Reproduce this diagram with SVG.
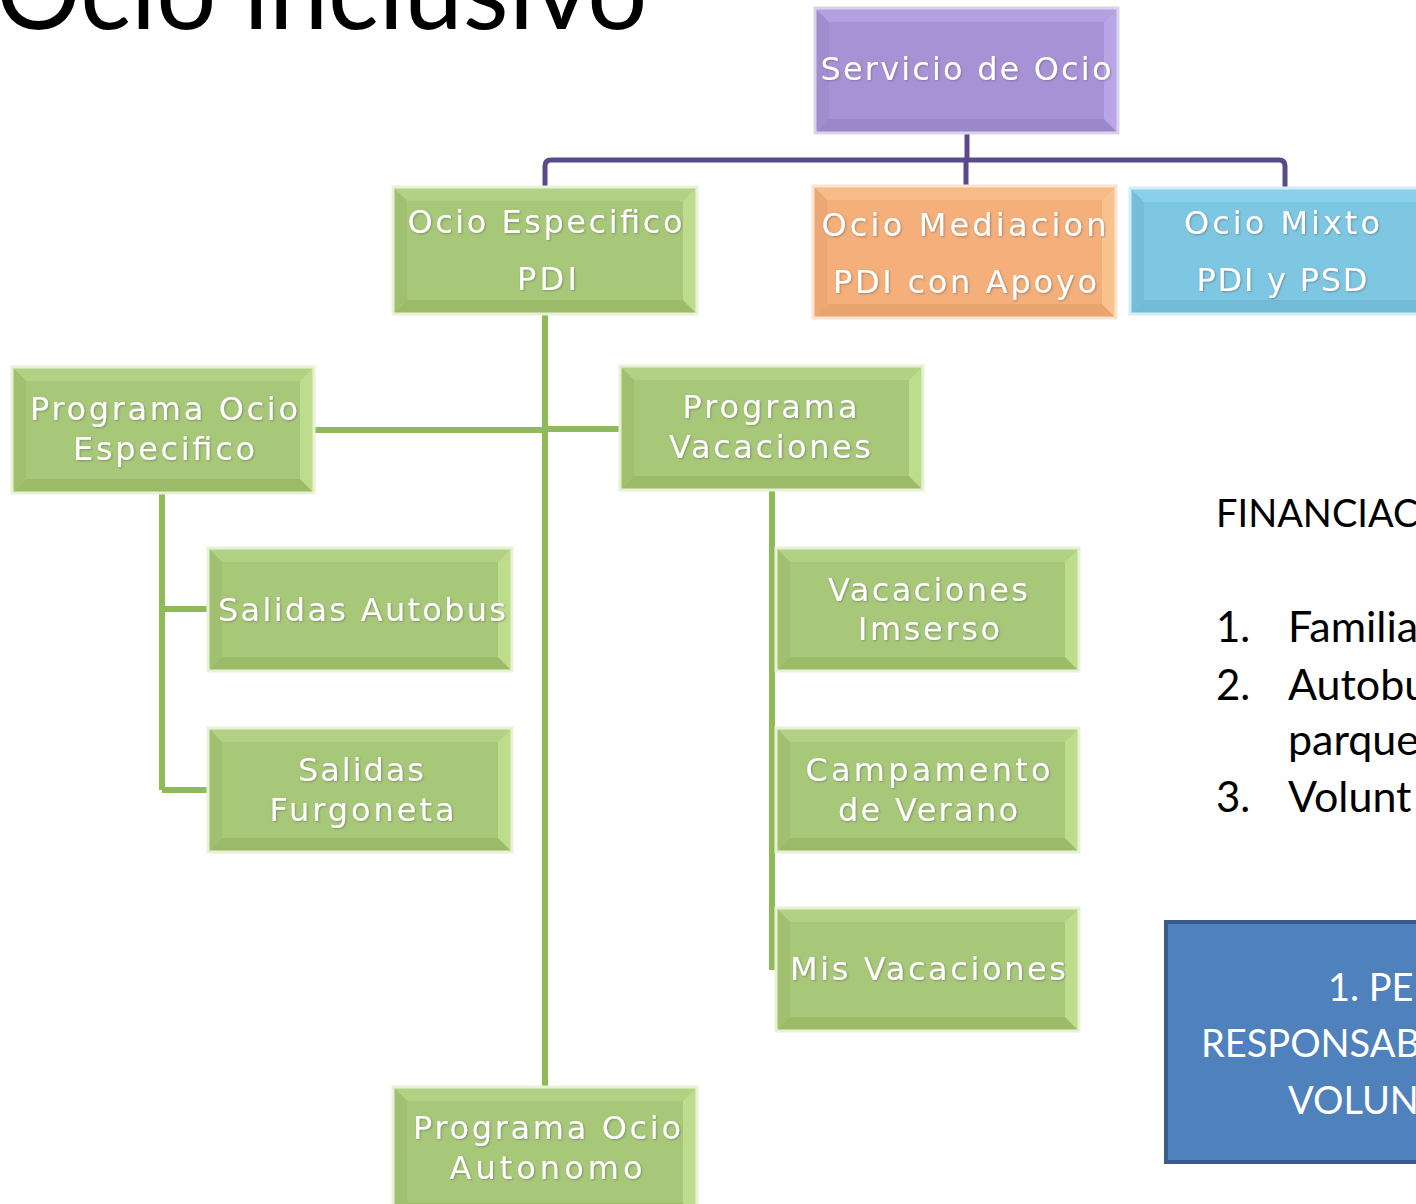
<svg xmlns="http://www.w3.org/2000/svg" width="1416" height="1204" viewBox="0 0 1416 1204">
<defs>
<style>
.lbl{font-family:"DejaVu Sans",Verdana,sans-serif;font-size:32px;fill:#ffffff;text-anchor:middle;filter:url(#ts)}
.blk{font-family:Lato,"Open Sans",sans-serif;fill:#000000}
.wht{font-family:Lato,"Open Sans",sans-serif;fill:#ffffff;font-size:38px}
.edge{fill:none;stroke-width:3}
.purple .f{fill:#a892d6}.purple .t{fill:#b3a0de}.purple .b{fill:#9b88c8}.purple .l{fill:#a08dcd}.purple .r{fill:#b8a6e6}.purple .edge{stroke:#d9d2ec}
.green .f{fill:#a8c879}.green .t{fill:#b2d185}.green .b{fill:#9bbb69}.green .l{fill:#a0c06f}.green .r{fill:#bedd8c}.green .edge{stroke:#e6f1d6}
.orange .f{fill:#f4af7a}.orange .t{fill:#f7bb88}.orange .b{fill:#e9a46f}.orange .l{fill:#eca874}.orange .r{fill:#f9c38f}.orange .edge{stroke:#fae3cf}
.blue .f{fill:#7ec7e3}.blue .t{fill:#8ad0ea}.blue .b{fill:#72bad6}.blue .l{fill:#76bdd9}.blue .r{fill:#92d8f0}.blue .edge{stroke:#d3edf7}
.cp{fill:none;stroke:#5b4a8b;stroke-width:5;stroke-linejoin:round}
.cg{fill:none;stroke:#8fba57;stroke-width:6}
</style>
<filter id="ts" x="-10%" y="-30%" width="120%" height="160%">
<feDropShadow dx="1" dy="1" stdDeviation="0.8" flood-color="#5a5a5a" flood-opacity="0.5"/>
</filter>
</defs>
<rect x="0" y="0" width="1416" height="1204" fill="#ffffff"/>

<text class="blk" x="-4" y="29" font-size="106">Ocio inclusivo</text>

<g id="connectors">
<path class="cp" d="M967 133 V160 M545 187 V166 Q545 160 551 160 H1279 Q1285 160 1285 166 V188 M966 160 V186"/>
<path class="cg" d="M545 314 V1087 M314 430 H545 M545 429 H620 M162 493 V790 M162 609 H208 M162 790 H208 M772 490 V970"/>
</g>

<g id="n-servicio" class="purple">
<rect class="f" x="815" y="8" width="303" height="125"/>
<polygon class="t" points="815,8 1118,8 1104,22 829,22"/>
<polygon class="b" points="815,133 1118,133 1104,119 829,119"/>
<polygon class="l" points="815,8 829,22 829,119 815,133"/>
<polygon class="r" points="1118,8 1104,22 1104,119 1118,133"/>
<rect class="edge" x="815" y="8" width="303" height="125"/>
<text class="lbl" x="966" y="80" textLength="291" lengthAdjust="spacing">Servicio de Ocio</text>
</g>

<g id="n-especifico" class="green">
<rect class="f" x="393" y="187" width="304" height="127"/>
<polygon class="t" points="393,187 697,187 683,201 407,201"/>
<polygon class="b" points="393,314 697,314 683,300 407,300"/>
<polygon class="l" points="393,187 407,201 407,300 393,314"/>
<polygon class="r" points="697,187 683,201 683,300 697,314"/>
<rect class="edge" x="393" y="187" width="304" height="127"/>
<text class="lbl" x="545" y="233" textLength="275" lengthAdjust="spacing">Ocio Especifico</text>
<text class="lbl" x="547" y="290" textLength="60" lengthAdjust="spacing">PDI</text>
</g>

<g id="n-mediacion" class="orange">
<rect class="f" x="813" y="186" width="303" height="132"/>
<polygon class="t" points="813,186 1116,186 1102,200 827,200"/>
<polygon class="b" points="813,318 1116,318 1102,304 827,304"/>
<polygon class="l" points="813,186 827,200 827,304 813,318"/>
<polygon class="r" points="1116,186 1102,200 1102,304 1116,318"/>
<rect class="edge" x="813" y="186" width="303" height="132"/>
<text class="lbl" x="964" y="236" textLength="285" lengthAdjust="spacing">Ocio Mediacion</text>
<text class="lbl" x="965" y="293" textLength="264" lengthAdjust="spacing">PDI con Apoyo</text>
</g>

<g id="n-mixto" class="blue">
<rect class="f" x="1130" y="188" width="300" height="126"/>
<polygon class="t" points="1130,188 1430,188 1416,202 1144,202"/>
<polygon class="b" points="1130,314 1430,314 1416,300 1144,300"/>
<polygon class="l" points="1130,188 1144,202 1144,300 1130,314"/>
<rect class="edge" x="1130" y="188" width="300" height="126"/>
<text class="lbl" x="1282" y="234" textLength="196" lengthAdjust="spacing">Ocio Mixto</text>
<text class="lbl" x="1282" y="291" textLength="171" lengthAdjust="spacing">PDI y PSD</text>
</g>

<g id="n-prog-especifico" class="green">
<rect class="f" x="12" y="367" width="302" height="126"/>
<polygon class="t" points="12,367 314,367 300,381 26,381"/>
<polygon class="b" points="12,493 314,493 300,479 26,479"/>
<polygon class="l" points="12,367 26,381 26,479 12,493"/>
<polygon class="r" points="314,367 300,381 300,479 314,493"/>
<rect class="edge" x="12" y="367" width="302" height="126"/>
<text class="lbl" x="164" y="420" textLength="268" lengthAdjust="spacing">Programa Ocio</text>
<text class="lbl" x="164" y="460" textLength="182" lengthAdjust="spacing">Especifico</text>
</g>

<g id="n-prog-vacaciones" class="green">
<rect class="f" x="620" y="366" width="303" height="124"/>
<polygon class="t" points="620,366 923,366 909,380 634,380"/>
<polygon class="b" points="620,490 923,490 909,476 634,476"/>
<polygon class="l" points="620,366 634,380 634,476 620,490"/>
<polygon class="r" points="923,366 909,380 909,476 923,490"/>
<rect class="edge" x="620" y="366" width="303" height="124"/>
<text class="lbl" x="770" y="418" textLength="175" lengthAdjust="spacing">Programa</text>
<text class="lbl" x="770" y="458" textLength="202" lengthAdjust="spacing">Vacaciones</text>
</g>

<g id="n-salidas-autobus" class="green">
<rect class="f" x="208" y="548" width="304" height="123"/>
<polygon class="t" points="208,548 512,548 498,562 222,562"/>
<polygon class="b" points="208,671 512,671 498,657 222,657"/>
<polygon class="l" points="208,548 222,562 222,657 208,671"/>
<polygon class="r" points="512,548 498,562 498,657 512,671"/>
<rect class="edge" x="208" y="548" width="304" height="123"/>
<text class="lbl" x="362" y="621" textLength="288" lengthAdjust="spacing">Salidas Autobus</text>
</g>

<g id="n-salidas-furgoneta" class="green">
<rect class="f" x="208" y="728" width="304" height="124"/>
<polygon class="t" points="208,728 512,728 498,742 222,742"/>
<polygon class="b" points="208,852 512,852 498,838 222,838"/>
<polygon class="l" points="208,728 222,742 222,838 208,852"/>
<polygon class="r" points="512,728 498,742 498,838 512,852"/>
<rect class="edge" x="208" y="728" width="304" height="124"/>
<text class="lbl" x="361" y="781" textLength="126" lengthAdjust="spacing">Salidas</text>
<text class="lbl" x="362" y="821" textLength="185" lengthAdjust="spacing">Furgoneta</text>
</g>

<g id="n-vacaciones-imserso" class="green">
<rect class="f" x="776" y="548" width="303" height="123"/>
<polygon class="t" points="776,548 1079,548 1065,562 790,562"/>
<polygon class="b" points="776,671 1079,671 1065,657 790,657"/>
<polygon class="l" points="776,548 790,562 790,657 776,671"/>
<polygon class="r" points="1079,548 1065,562 1065,657 1079,671"/>
<rect class="edge" x="776" y="548" width="303" height="123"/>
<text class="lbl" x="928" y="601" textLength="200" lengthAdjust="spacing">Vacaciones</text>
<text class="lbl" x="929" y="640" textLength="142" lengthAdjust="spacing">Imserso</text>
</g>

<g id="n-campamento" class="green">
<rect class="f" x="776" y="728" width="303" height="124"/>
<polygon class="t" points="776,728 1079,728 1065,742 790,742"/>
<polygon class="b" points="776,852 1079,852 1065,838 790,838"/>
<polygon class="l" points="776,728 790,742 790,838 776,852"/>
<polygon class="r" points="1079,728 1065,742 1065,838 1079,852"/>
<rect class="edge" x="776" y="728" width="303" height="124"/>
<text class="lbl" x="928" y="781" textLength="245" lengthAdjust="spacing">Campamento</text>
<text class="lbl" x="928" y="821" textLength="180" lengthAdjust="spacing">de Verano</text>
</g>

<g id="n-mis-vacaciones" class="green">
<rect class="f" x="776" y="908" width="303" height="123"/>
<polygon class="t" points="776,908 1079,908 1065,922 790,922"/>
<polygon class="b" points="776,1031 1079,1031 1065,1017 790,1017"/>
<polygon class="l" points="776,908 790,922 790,1017 776,1031"/>
<polygon class="r" points="1079,908 1065,922 1065,1017 1079,1031"/>
<rect class="edge" x="776" y="908" width="303" height="123"/>
<text class="lbl" x="928" y="980" textLength="276" lengthAdjust="spacing">Mis Vacaciones</text>
</g>

<g id="n-prog-autonomo" class="green">
<rect class="f" x="393" y="1087" width="304" height="130"/>
<polygon class="t" points="393,1087 697,1087 683,1101 407,1101"/>
<polygon class="b" points="393,1217 697,1217 683,1203 407,1203"/>
<polygon class="l" points="393,1087 407,1101 407,1203 393,1217"/>
<polygon class="r" points="697,1087 683,1101 683,1203 697,1217"/>
<rect class="edge" x="393" y="1087" width="304" height="130"/>
<text class="lbl" x="547" y="1139" textLength="268" lengthAdjust="spacing">Programa Ocio</text>
<text class="lbl" x="546" y="1179" textLength="193" lengthAdjust="spacing">Autonomo</text>
</g>

<g id="financiacion">
<text class="blk" x="1216" y="527" font-size="38">FINANCIAC</text>
<text class="blk" x="1216" y="642" font-size="42">1.</text>
<text class="blk" x="1288" y="642" font-size="43">Familia</text>
<text class="blk" x="1216" y="700" font-size="42">2.</text>
<text class="blk" x="1288" y="700" font-size="43">Autobu</text>
<text class="blk" x="1288" y="755" font-size="43">parque</text>
<text class="blk" x="1216" y="812" font-size="42">3.</text>
<text class="blk" x="1288" y="812" font-size="43">Volunt</text>
</g>

<g id="n-responsable">
<rect x="1166" y="922" width="270" height="240" fill="#4f81bd" stroke="#385d8a" stroke-width="4"/>
<text class="wht" x="1328" y="1001">1. PE</text>
<text class="wht" x="1201" y="1057">RESPONSAB</text>
<text class="wht" x="1288" y="1114">VOLUN</text>
</g>
</svg>
